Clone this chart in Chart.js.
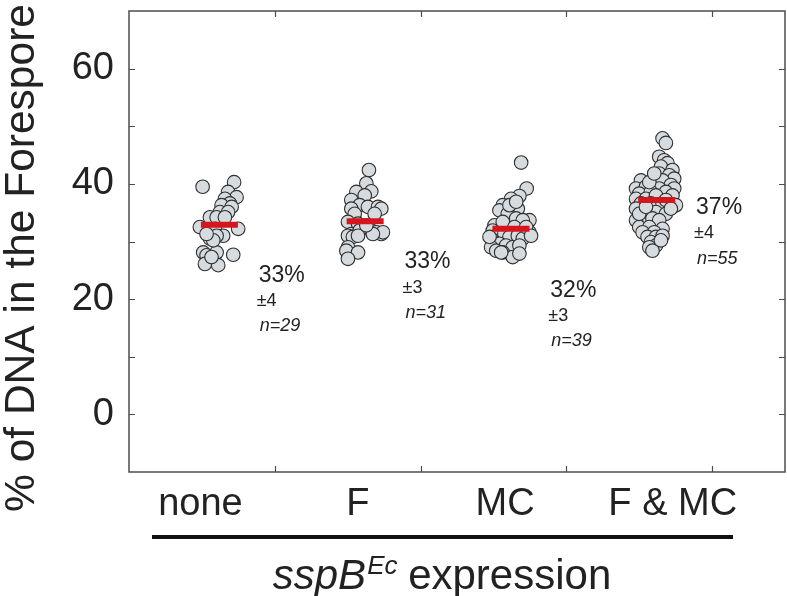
<!DOCTYPE html>
<html>
<head>
<meta charset="utf-8">
<script src="https://cdn.jsdelivr.net/npm/chart.js@4"></script>
<style>
  body { margin: 0; background: #fff; }
  canvas { display: block; }
</style>
</head>
<body>
<canvas id="mycanvas" width="787" height="596"></canvas>
<script>
// categories and where their labels / clusters sit on the x axis
var categories = ['none', 'F', 'MC', 'F & MC'];
var groupX = [0.62, 1.62, 2.62, 3.62];
var labelX = [0.49, 1.57, 2.58, 3.73];
var xTicks = [1, 2, 3, 4];
var yTicks = [0, 20, 40, 60];
var yMinor = [10, 30, 50];

// means (red bars) and the printed numbers
var means = [32.9, 33.5, 32.2, 37.2];
var pctLabels = ['33%', '33%', '32%', '37%'];
var sdLabels = ['\u00b14', '\u00b13', '\u00b13', '\u00b14'];
var nLabels = ['n=29', 'n=31', 'n=39', 'n=55'];
var noteY = [24.1, 26.5, 21.5, 35.9];

// single cells: % of DNA in the forespore, and horizontal jitter in the swarm
var noneY = [39.5, 40.3, 38.6, 37.7, 37.4, 36.6, 36.3, 36.0, 35.1, 35.1, 34.2, 34.2, 34.2, 32.5, 32.2,
  31.9, 32.2, 31.0, 30.5, 31.0, 28.1, 27.6, 28.1, 27.7, 26.1, 25.9, 27.3, 30.2, 31.3];
var noneJit = [-0.115, 0.101, 0.060, 0.118, 0.038, 0.072, 0.015, 0.084, 0.003, 0.060, -0.065, -0.019, 0.038, -0.134, 0.129,
  -0.065, -0.031, 0.026, -0.065, -0.019, -0.111, -0.088, -0.019, 0.095, -0.099, -0.008, -0.054, -0.042, -0.088];

var fY = [42.4, 40.1, 38.7, 38.6, 37.2, 38.0, 36.3, 36.0, 36.0, 35.7, 35.7, 34.8, 34.8, 33.4, 33.1, 32.5,
  31.9, 31.6, 31.3, 31.6, 31.3, 31.3, 31.9, 31.0, 30.8, 31.0, 29.0, 28.4, 28.1, 27.0, 32.8];
var fJit = [0.026, 0.008, 0.042, -0.060, -0.095, -0.003, -0.038, 0.019, 0.088, 0.111, -0.095, -0.072, 0.065, -0.118, -0.049, -0.003,
  0.042, 0.077, 0.111, 0.122, 0.053, -0.095, -0.038, -0.118, -0.084, -0.049, -0.118, -0.129, -0.049, -0.118, 0.008];

var mcY = [43.7, 39.2, 37.9, 37.4, 36.3, 36.0, 35.4, 35.7, 34.8, 34.0, 33.7, 33.7, 32.8, 33.4, 31.6, 31.9, 32.5,
  31.9, 31.0, 31.3, 30.8, 31.0, 30.5, 30.5, 29.6, 29.3, 29.0, 28.4, 29.0, 29.3, 28.1, 27.3, 27.9, 32.5, 28.1,
  30.8, 36.3, 36.9, 31.0];
var mcJit = [0.070, 0.108, 0.058, 0.001, -0.056, 0.012, -0.079, 0.047, -0.022, 0.036, 0.127, 0.081, -0.113, -0.056, 0.127, 0.092, 0.024,
  -0.125, -0.101, -0.045, -0.010, 0.047, 0.081, -0.136, -0.079, -0.033, -0.136, -0.101, 0.012, 0.058, -0.056, 0.012, 0.058, 0.104, -0.067,
  -0.147, -0.010, 0.036, 0.138];

var fmcY = [47.9, 47.1, 44.7, 44.1, 43.6, 43.0, 42.4, 41.8, 41.5, 40.9, 40.6, 40.6, 39.8, 39.2, 39.5, 39.2, 39.2,
  38.3, 38.6, 38.6, 37.4, 37.4, 38.0, 38.0, 36.6, 36.6, 36.6, 36.3, 35.7, 35.4, 35.1, 34.8, 34.2, 34.0, 33.7,
  33.7, 32.5, 32.5, 32.2, 31.6, 31.6, 30.8, 30.8, 31.0, 29.9, 29.3, 29.0, 28.4, 30.2, 34.8, 37.2, 35.7, 40.3,
  41.8, 36.0];
var fmcJit = [0.040, 0.063, 0.017, 0.051, 0.074, 0.029, 0.108, 0.017, 0.086, 0.120, -0.108, 0.040, 0.097, -0.142, -0.074, 0.017, 0.120,
  -0.120, -0.040, 0.063, -0.142, -0.074, -0.005, 0.108, -0.108, -0.040, 0.040, 0.132, -0.142, -0.074, -0.005, 0.063, -0.097, -0.029, -0.142,
  0.017, -0.120, -0.051, 0.040, -0.097, -0.017, -0.063, -0.005, 0.040, -0.040, -0.005, -0.051, -0.029, 0.029, -0.120, 0.063, 0.097, -0.051,
  -0.017, -0.074];

var groupY = [noneY, fY, mcY, fmcY];
var groupJit = [noneJit, fJit, mcJit, fmcJit];

var FONT = "'Liberation Sans', Arial, Helvetica, sans-serif";
var INK = '#222';

var datasets = [];
datasets.push({
  label: 'mean',
  data: means.map(function(m, i) { return { x: groupX[i], y: m }; }),
  pointStyle: 'line',
  pointRadius: 18.5,
  borderWidth: 6,
  borderColor: '#d5161c',
  backgroundColor: '#d5161c'
});
for (var g = 0; g < categories.length; g++) {
  var pts = [];
  for (var k = 0; k < groupY[g].length; k++) {
    pts.push({ x: groupX[g] + groupJit[g][k], y: groupY[g][k] });
  }
  datasets.push({
    label: categories[g],
    data: pts,
    pointRadius: 6.8,
    borderWidth: 1.1,
    borderColor: '#2e2e2e',
    backgroundColor: '#d6dbdf'
  });
}

// frame with inward ticks, notes, titles and the bracket line
var decor = {
  id: 'decor',
  afterDraw: function(chart) {
    var ctx = chart.ctx, a = chart.chartArea;
    var xs = chart.scales.x, ys = chart.scales.y;
    ctx.save();
    ctx.strokeStyle = '#4a4d50';
    ctx.lineWidth = 1.5;
    ctx.strokeRect(a.left, a.top, a.right - a.left, a.bottom - a.top);
    ctx.lineWidth = 1.2;
    ctx.beginPath();
    yTicks.concat(yMinor).forEach(function(v) {
      var y = Math.round(ys.getPixelForValue(v)) + 0.5;
      ctx.moveTo(a.left, y); ctx.lineTo(a.left + 6, y);
      ctx.moveTo(a.right, y); ctx.lineTo(a.right - 6, y);
    });
    xTicks.forEach(function(v) {
      var x = Math.round(xs.getPixelForValue(v)) + 0.5;
      ctx.moveTo(x, a.bottom); ctx.lineTo(x, a.bottom - 6);
      ctx.moveTo(x, a.top); ctx.lineTo(x, a.top + 6);
    });
    ctx.stroke();

    // percentages, spread and n next to each swarm
    ctx.fillStyle = INK;
    ctx.textBaseline = 'middle';
    ctx.textAlign = 'left';
    for (var i = 0; i < categories.length; i++) {
      var tx = xs.getPixelForValue(groupX[i] + 0.27);
      var ty = ys.getPixelForValue(noteY[i]);
      ctx.font = '23px ' + FONT;
      ctx.fillText(pctLabels[i], tx, ty);
      ctx.font = '18px ' + FONT;
      ctx.fillText(sdLabels[i], tx - 2, ty + 26);
      ctx.font = 'italic 18px ' + FONT;
      ctx.fillText(nLabels[i], tx + 1, ty + 51);
    }

    // y title
    ctx.save();
    ctx.translate(22, 258);
    ctx.rotate(-Math.PI / 2);
    ctx.textAlign = 'center';
    ctx.font = '42.5px ' + FONT;
    ctx.fillText('% of DNA in the Forespore', 0, 0);
    ctx.restore();

    // bracket under the category names
    ctx.fillStyle = '#111';
    ctx.fillRect(152, 535, 581, 4);

    // x title: sspB^Ec expression
    ctx.fillStyle = INK;
    ctx.textBaseline = 'alphabetic';
    var base = 589;
    var p1 = 'sspB', p2 = 'Ec', p3 = ' expression';
    ctx.font = 'italic 42px ' + FONT;
    var w1 = ctx.measureText(p1).width;
    ctx.font = 'italic 26px ' + FONT;
    var w2 = ctx.measureText(p2).width;
    ctx.font = '42px ' + FONT;
    var w3 = ctx.measureText(p3).width;
    var x0 = 442 - (w1 + w2 + w3) / 2;
    ctx.font = 'italic 42px ' + FONT;
    ctx.fillText(p1, x0, base);
    ctx.font = 'italic 26px ' + FONT;
    ctx.fillText(p2, x0 + w1 + 1, base - 15);
    ctx.font = '42px ' + FONT;
    ctx.fillText(p3, x0 + w1 + w2, base);
    ctx.restore();
  }
};

var ctx = document.getElementById('mycanvas');
var chart = new Chart(ctx, {
  type: 'scatter',
  data: { datasets: datasets },
  options: {
    responsive: false,
    animation: false,
    events: [],
    layout: { autoPadding: false, padding: { top: 11, right: 2, left: 0, bottom: 0 } },
    plugins: { legend: { display: false }, tooltip: { enabled: false } },
    scales: {
      x: {
        type: 'linear',
        position: 'bottom',
        min: 0,
        max: 4.5,
        grid: { display: false, drawTicks: false },
        border: { display: false },
        afterBuildTicks: function(axis) {
          axis.ticks = labelX.map(function(v) { return { value: v }; });
        },
        afterFit: function(s) {
          s.height = 124;
          s.paddingLeft = 0; s.paddingRight = 0;
        },
        ticks: {
          autoSkip: false,
          maxRotation: 0,
          padding: 10,
          color: INK,
          font: { size: 38, family: FONT },
          callback: function(v, i) { return categories[i]; }
        }
      },
      y: {
        min: -10,
        max: 70,
        grid: { display: false, drawTicks: false },
        border: { display: false },
        afterBuildTicks: function(axis) {
          axis.ticks = yTicks.map(function(v) { return { value: v }; });
        },
        afterFit: function(s) {
          s.width = 129;
          s.paddingTop = 0; s.paddingBottom = 0;
        },
        ticks: {
          padding: 15,
          color: INK,
          font: { size: 38, family: FONT }
        }
      }
    }
  },
  plugins: [decor]
});
</script>
</body>
</html>
